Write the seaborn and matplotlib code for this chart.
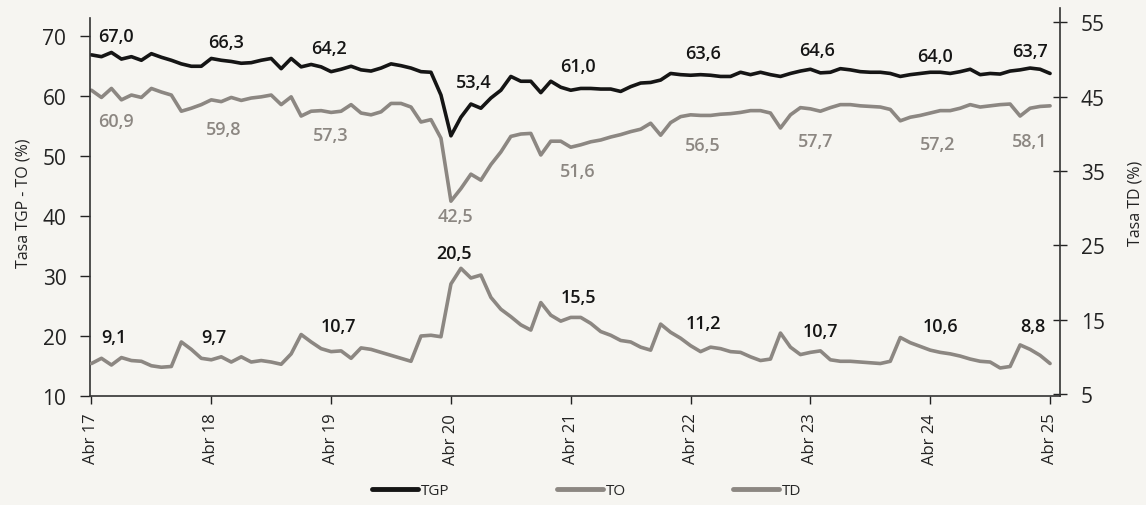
import numpy as np
import pandas as pd
import seaborn as sns
import matplotlib.pyplot as plt

# Monthly series, Abr 2017 - Abr 2025
tgp = [66.9, 66.6, 67.3, 66.2, 66.6, 66.0, 67.1, 66.5, 66.0, 65.4, 65.0, 65.0,
       66.3, 66.0, 65.8, 65.5, 65.6, 66.0, 66.3, 64.6, 66.3, 64.9, 65.3, 64.9,
       64.1, 64.5, 65.0, 64.4, 64.2, 64.7, 65.4, 65.1, 64.7, 64.1, 64.0, 60.2,
       53.4, 56.5, 58.7, 58.0, 59.7, 61.0, 63.3, 62.5, 62.5, 60.6, 62.5, 61.5,
       61.0, 61.3, 61.3, 61.2, 61.2, 60.8, 61.6, 62.2, 62.3, 62.7, 63.8, 63.6,
       63.5, 63.6, 63.5, 63.3, 63.3, 64.0, 63.6, 64.0, 63.6, 63.3, 63.8, 64.2,
       64.5, 63.9, 64.0, 64.6, 64.4, 64.1, 64.0, 64.0, 63.8, 63.3, 63.6, 63.8,
       64.0, 64.0, 63.8, 64.1, 64.5, 63.6, 63.8, 63.7, 64.2, 64.4, 64.7, 64.5,
       63.8]
to = [61.0, 59.8, 61.3, 59.4, 60.2, 59.8, 61.3, 60.7, 60.2, 57.5, 58.0, 58.6,
      59.4, 59.1, 59.8, 59.3, 59.7, 59.9, 60.2, 58.6, 59.9, 56.7, 57.5, 57.6,
      57.3, 57.5, 58.6, 57.2, 56.9, 57.4, 58.8, 58.8, 58.2, 55.7, 56.1, 53.0,
      42.5, 44.6, 47.0, 46.0, 48.6, 50.7, 53.3, 53.7, 53.8, 50.2, 52.5, 52.5,
      51.5, 51.9, 52.4, 52.7, 53.2, 53.6, 54.1, 54.5, 55.5, 53.5, 55.6, 56.6,
      56.9, 56.8, 56.8, 57.0, 57.1, 57.3, 57.6, 57.6, 57.2, 54.7, 56.9, 58.1,
      57.9, 57.5, 58.1, 58.6, 58.6, 58.4, 58.3, 58.2, 57.8, 55.9, 56.5, 56.8,
      57.2, 57.6, 57.6, 58.0, 58.6, 58.2, 58.4, 58.6, 58.7, 56.7, 58.0, 58.3,
      58.4]
td = [9.1, 9.8, 8.9, 9.9, 9.5, 9.4, 8.8, 8.6, 8.7, 12.0, 11.0, 9.8,
      9.6, 10.0, 9.3, 10.0, 9.3, 9.5, 9.3, 9.0, 10.4, 13.0, 12.0, 11.1,
      10.7, 10.8, 9.8, 11.2, 11.0, 10.6, 10.2, 9.8, 9.4, 12.8, 12.9, 12.7,
      19.8, 21.9, 20.6, 21.0, 18.0, 16.4, 15.4, 14.3, 13.6, 17.3, 15.6, 14.8,
      15.3, 15.3, 14.5, 13.4, 12.9, 12.2, 12.0, 11.3, 10.9, 14.4, 13.3, 12.5,
      11.5, 10.7, 11.3, 11.1, 10.7, 10.6, 10.0, 9.5, 9.7, 13.2, 11.3, 10.3,
      10.6, 10.8, 9.6, 9.4, 9.4, 9.3, 9.2, 9.1, 9.4, 12.6, 11.9, 11.4,
      10.9, 10.6, 10.4, 10.1, 9.7, 9.4, 9.3, 8.5, 8.7, 11.6, 11.0, 10.2,
      9.1]

year_ticks = ["Abr 17", "Abr 18", "Abr 19", "Abr 20", "Abr 21",
              "Abr 22", "Abr 23", "Abr 24", "Abr 25"]

# annotated values (text, month, y)
tgp_labels = [("67,0", 2.5, 70.0), ("66,3", 13.5, 69.1), ("64,2", 23.8, 68.0),
              ("53,4", 38.3, 62.3), ("61,0", 48.7, 65.0), ("63,6", 61.2, 67.2),
              ("64,6", 72.7, 67.7), ("64,0", 84.5, 66.7), ("63,7", 94.0, 67.5)]
to_labels = [("60,9", 2.5, 55.8), ("59,8", 13.2, 54.6), ("57,3", 24.0, 53.5),
             ("42,5", 36.5, 40.0), ("51,6", 48.7, 47.6), ("56,5", 61.2, 51.8),
             ("57,7", 72.5, 52.6), ("57,2", 84.7, 52.1), ("58,1", 94.0, 52.6)]
td_labels = [("9,1", 2.2, 12.7), ("9,7", 12.3, 12.7), ("10,7", 24.7, 14.1),
             ("20,5", 36.3, 24.0), ("15,5", 48.8, 18.1), ("11,2", 61.3, 14.5),
             ("10,7", 73.0, 13.5), ("10,6", 85.0, 14.1), ("8,8", 94.3, 14.1)]

df = pd.DataFrame({"mes": np.arange(len(tgp)), "TGP": tgp, "TO": to, "TD": td})

sns.set_style("ticks")
plt.rcParams['font.family'] = ['Open Sans', 'DejaVu Sans']

black = "#151515"
grey = "#8c8782"
bg = "#f6f5f1"

fig, ax = plt.subplots(figsize=(11.46, 5.06), dpi=100)
fig.patch.set_facecolor(bg)
ax.set_facecolor(bg)
fig.subplots_adjust(left=0.0785, right=0.925, bottom=0.2154, top=0.982)
ax2 = ax.twinx()

line_kw = dict(lw=2.6, solid_joinstyle='round', solid_capstyle='round', legend=False)
sns.lineplot(data=df, x="mes", y="TGP", ax=ax, color=black, **line_kw)
sns.lineplot(data=df, x="mes", y="TO", ax=ax, color=grey, **line_kw)
sns.lineplot(data=df, x="mes", y="TD", ax=ax2, color=grey, **line_kw)

ax.set_xlim(-0.15, 97)
ax.set_ylim(10, 74.7)
ax2.set_ylim(4.73, 56.9)
ax.set_yticks([10, 20, 30, 40, 50, 60, 70])
ax2.set_yticks([5, 15, 25, 35, 45, 55])
ax.set_xticks(np.arange(0, 97, 12))
ax.set_xticklabels(year_ticks, rotation=90)

for a in (ax, ax2):
    a.spines['top'].set_visible(False)
ax.spines['right'].set_visible(False)
ax2.spines['left'].set_visible(False)
ax2.spines['bottom'].set_visible(False)
ax.spines['left'].set_bounds(10, 73)
for s in ('left', 'bottom'):
    ax.spines[s].set_color("#333333")
    ax.spines[s].set_linewidth(1.2)
ax2.spines['right'].set_color("#333333")
ax2.spines['right'].set_linewidth(1.2)

ax.tick_params(axis='y', labelsize=15, length=7, width=1, pad=10, colors="#222222")
ax.tick_params(axis='x', labelsize=12, length=6, width=1, pad=6, colors="#222222")
ax2.tick_params(axis='y', labelsize=15, length=10, width=1, pad=10,
                direction='inout', colors="#222222")

ax.set_xlabel("")
ax.set_ylabel("Tasa TGP - TO (%)", fontsize=11.5, color="#222222", labelpad=8)
ax2.set_ylabel("Tasa TD (%)", fontsize=11.5, color="#222222", labelpad=16)

for txt, x, y in tgp_labels:
    ax.text(x, y, txt, ha='center', va='center', fontsize=13, color=black, fontweight='semibold')
for txt, x, y in to_labels:
    ax.text(x, y, txt, ha='center', va='center', fontsize=13, color=grey, fontweight='semibold')
for txt, x, y in td_labels:
    ax2.text(x, y, txt, ha='center', va='center', fontsize=13, color=black, fontweight='semibold')

handles = [plt.Line2D([], [], color=black, lw=3.5),
           plt.Line2D([], [], color=grey, lw=3.5),
           plt.Line2D([], [], color=grey, lw=3.5)]
fig.legend(handles, ["TGP", "TO", "TD"], loc='center', bbox_to_anchor=(0.512, 0.028),
           ncol=3, frameon=False, fontsize=11, handlelength=3.0, handletextpad=0.2,
           columnspacing=7.0)

fig.savefig("out.png", dpi=100, facecolor=bg)
